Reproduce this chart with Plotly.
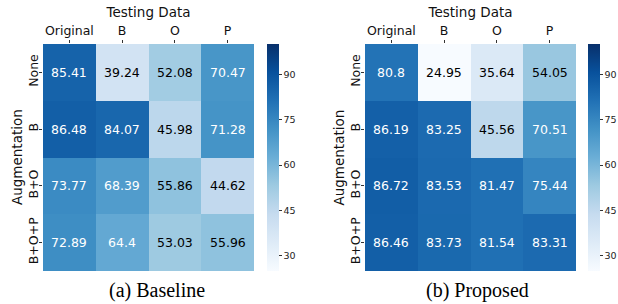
import plotly.graph_objects as go

testing = ["Original", "B", "O", "P"]
augmentation = ["None", "B", "B+O", "B+O+P"]

baseline = [
    [85.41, 39.24, 52.08, 70.47],
    [86.48, 84.07, 45.98, 71.28],
    [73.77, 68.39, 55.86, 44.62],
    [72.89, 64.4, 53.03, 55.96],
]
proposed = [
    [80.8, 24.95, 35.64, 54.05],
    [86.19, 83.25, 45.56, 70.51],
    [86.72, 83.53, 81.47, 75.44],
    [86.46, 83.73, 81.54, 83.31],
]
captions = ["(a) Baseline", "(b) Proposed"]
cbar_ticks = [30, 45, 60, 75, 90]

blues = [
    [0.0, "#f7fbff"], [0.125, "#deebf7"], [0.25, "#c6dbef"], [0.375, "#9ecae1"],
    [0.5, "#6baed6"], [0.625, "#4292c6"], [0.75, "#2171b5"], [0.875, "#08519c"],
    [1.0, "#08306b"],
]
ZMIN, ZMAX = 25, 100
W, H = 618, 304
FONT = "DejaVu Sans"

panels = [
    dict(data=baseline, x0=43, x1=254, cb=267, cap=157, ytitle=16.5, xa="x", ya="y"),
    dict(data=proposed, x0=365, x1=576, cb=588, cap=477, ytitle=338, xa="x2", ya="y2"),
]
top, bottom = 44, 271

fig = go.Figure()
annotations = []
for i, p in enumerate(panels):
    fig.add_trace(go.Heatmap(
        z=p["data"], x=testing, y=augmentation,
        colorscale=blues, zmin=ZMIN, zmax=ZMAX,
        xaxis=p["xa"], yaxis=p["ya"],
        colorbar=dict(
            x=p["cb"] / W, xanchor="left", xpad=0, ypad=0,
            y=1 - top / H, yanchor="top",
            lenmode="pixels", len=bottom - top,
            thicknessmode="pixels", thickness=12,
            outlinewidth=0,
            tickvals=cbar_ticks, ticks="outside", ticklen=3,
            tickcolor="#333", tickfont=dict(family=FONT, size=9.5, color="#222"),
        ),
        hoverinfo="skip",
    ))
    for r, row in enumerate(p["data"]):
        for c, v in enumerate(row):
            annotations.append(dict(
                x=testing[c], y=augmentation[r], xref=p["xa"], yref=p["ya"],
                text=str(v), showarrow=False, xanchor="center", yanchor="middle",
                font=dict(family=FONT, size=12.5, color="white" if v >= 60 else "black"),
            ))
    annotations.append(dict(
        x=p["cap"] / W, y=1 - 290 / H, xref="paper", yref="paper",
        xanchor="center", yanchor="middle",
        text=captions[i], showarrow=False,
        font=dict(family="Liberation Serif", size=20, color="black"),
    ))
    annotations.append(dict(
        x=p["ytitle"] / W, y=1 - (top + bottom) / 2 / H, xref="paper", yref="paper",
        xanchor="center", yanchor="middle", textangle=-90,
        text="Augmentation", showarrow=False,
        font=dict(family=FONT, size=13.5, color="#111"),
    ))

def xaxis(p):
    return dict(
        domain=[p["x0"] / W, p["x1"] / W], anchor=p["ya"], side="top",
        automargin=False,
        ticks="outside", ticklen=3, tickcolor="#333", showgrid=False, zeroline=False,
        tickfont=dict(family=FONT, size=12.5, color="#111"),
        title=dict(text="Testing Data", font=dict(family=FONT, size=13.5, color="#111"), standoff=2),
    )

def yaxis(p):
    return dict(
        domain=[1 - bottom / H, 1 - top / H], anchor=p["xa"], autorange="reversed",
        automargin=False,
        ticks="outside", ticklen=3, tickcolor="#333", showgrid=False, zeroline=False,
        tickangle=-90, ticklabelstandoff=-4,
        tickfont=dict(family=FONT, size=12.5, color="#111"),
    )

fig.update_layout(
    width=W, height=H, margin=dict(l=0, r=0, t=0, b=0, autoexpand=False),
    paper_bgcolor="white", plot_bgcolor="white",
    xaxis=xaxis(panels[0]), yaxis=yaxis(panels[0]),
    xaxis2=xaxis(panels[1]), yaxis2=yaxis(panels[1]),
    annotations=annotations,
)
fig.write_html("out.html", config={"displayModeBar": False},
               post_script="document.body.style.margin='0';")
